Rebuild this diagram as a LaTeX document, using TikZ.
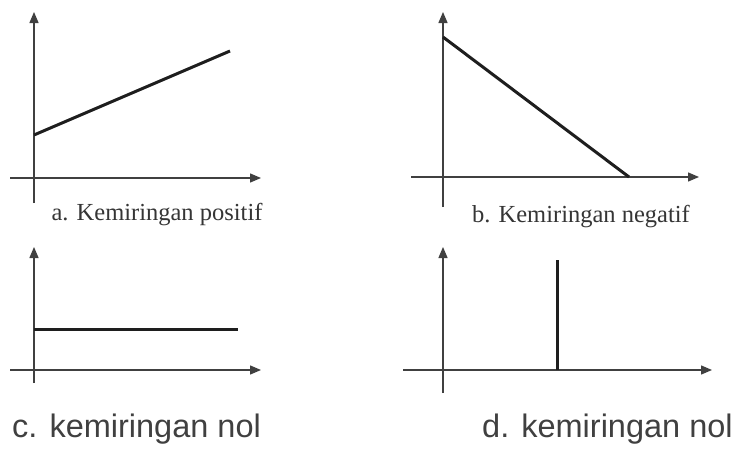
\documentclass[tikz,border=0pt]{standalone}
\usepackage{fontspec}
\setmainfont{Liberation Serif}
\setsansfont{Liberation Sans}
\usetikzlibrary{arrows.meta}
\definecolor{ink}{RGB}{30,30,30}

\begin{document}
\begin{tikzpicture}[
  x=1pt, y=-1pt,
  axis/.style={-{Triangle[length=11pt,width=9pt]}, line width=1.3pt, color=ink!85},
  graph/.style={line width=3pt, color=ink},
  caption/.style={inner sep=0pt, text=ink!90, font=\fontsize{24.5}{28}\selectfont},
  scaption/.style={inner sep=0pt, text=ink!85, anchor=base west,
               font=\sffamily\fontsize{32.5}{38}\selectfont}
]
\useasboundingbox (0,0) rectangle (732,450);

% ── (a) positive slope ─────────────
\coordinate (a0)  at (34,203);
\coordinate (ay)  at (34,12);
\coordinate (ax0) at (10,178);
\coordinate (ax)  at (261,178);
\coordinate (aL1) at (34,135);
\coordinate (aL2) at (230,51);
\draw[axis] (a0) -- (ay);
\draw[axis] (ax0) -- (ax);
\draw[graph] (aL1) -- (aL2);
\node[caption, anchor=base] (capa) at (157,220) {a. Kemiringan positif};

% ── (b) negative slope ─────────────
\coordinate (b0)  at (443,207);
\coordinate (by)  at (443,12);
\coordinate (bx0) at (411,177);
\coordinate (bx)  at (699,177);
\coordinate (bL1) at (443,37);
\coordinate (bL2) at (629,177);
\draw[axis] (b0) -- (by);
\draw[axis] (bx0) -- (bx);
\draw[graph] (bL1) -- (bL2);
\node[caption, anchor=base] (capb) at (581,222) {b. Kemiringan negatif};

% ── (c) zero slope, horizontal ─────
\coordinate (c0)  at (34,383);
\coordinate (cy)  at (34,247);
\coordinate (cx0) at (10,370);
\coordinate (cx)  at (261,370);
\coordinate (cL1) at (34,329);
\coordinate (cL2) at (238,329);
\draw[axis] (c0) -- (cy);
\draw[axis] (cx0) -- (cx);
\draw[graph] (cL1) -- (cL2);
\node[scaption] (capc) at (12,437) {c. kemiringan nol};

% ── (d) vertical line ──────────────
\coordinate (d0)  at (443,393);
\coordinate (dy)  at (443,247);
\coordinate (dx0) at (403,370);
\coordinate (dx)  at (712,370);
\coordinate (dL1) at (557,370);
\coordinate (dL2) at (557,260);
\draw[axis] (d0) -- (dy);
\draw[axis] (dx0) -- (dx);
\draw[graph] (dL1) -- (dL2);
\node[scaption] (capd) at (482,437) {d. kemiringan nol};
\end{tikzpicture}
\end{document}
